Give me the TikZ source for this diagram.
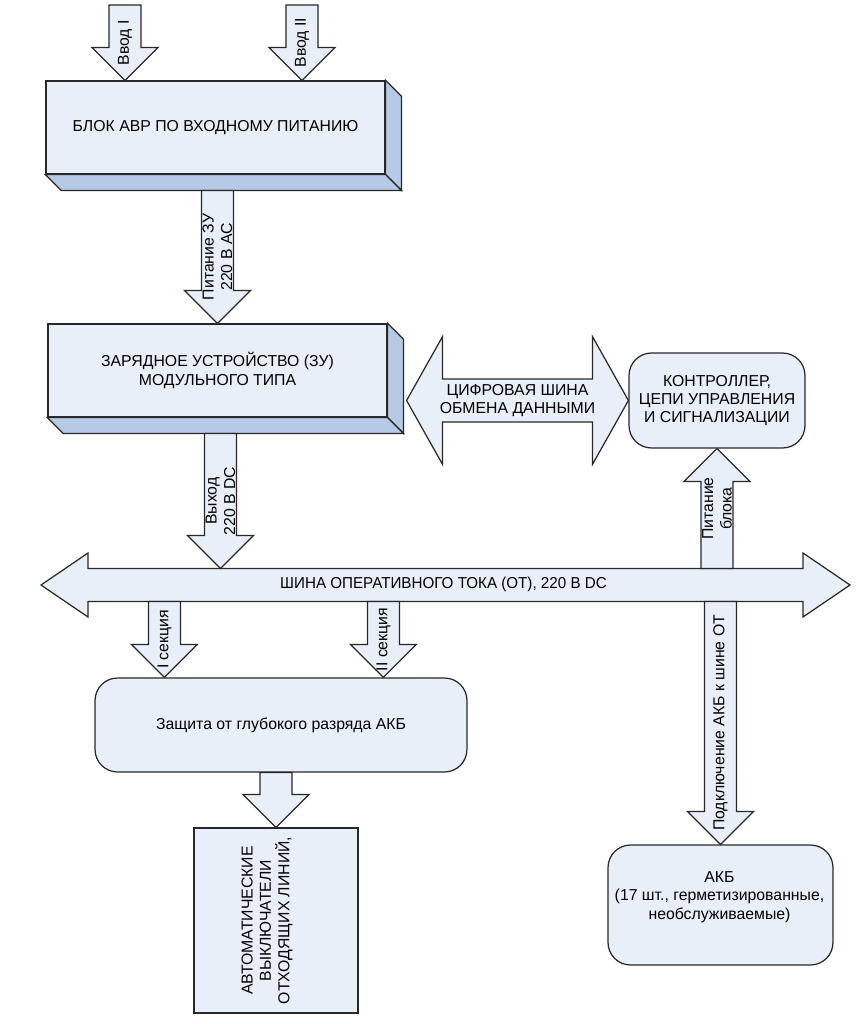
\documentclass[tikz,border=0pt]{standalone}
\usepackage{fontspec}
\setmainfont{Liberation Sans}
\usetikzlibrary{calc, positioning}

\definecolor{facefill}{RGB}{232,239,249}
\definecolor{sidefill}{RGB}{182,202,230}
\definecolor{edge}{RGB}{40,40,40}

% vertical block arrow: start, tip, label
\newcommand{\vblk}[3]{%
  \path (#2) coordinate (tp) (#1 -| #2) coordinate (st) ($(tp)!0.66cm!(st)$) coordinate (hb);
  \draw[blk] ($(st)+(-16,0)$) -- ($(hb)+(-16,0)$) -- ($(hb)+(-33,0)$) -- (tp)
    -- ($(hb)+(33,0)$) -- ($(hb)+(16,0)$) -- ($(st)+(16,0)$) -- cycle;
  \node[lbl, rotate=90] at ($(st)!0.5!(tp)$) {#3};}

% horizontal double block arrow: left tip, right tip, head length, shaft/2, head/2
\newcommand{\hblk}[5]{%
  \draw[blk] (#1) -- ($(#1)+(#3,-#5)$) -- ($(#1)+(#3,-#4)$) -- ($(#2)+(-#3,-#4)$)
    -- ($(#2)+(-#3,-#5)$) -- (#2) -- ($(#2)+(-#3,#5)$) -- ($(#2)+(-#3,#4)$)
    -- ($(#1)+(#3,#4)$) -- ($(#1)+(#3,#5)$) -- cycle;}

% side and bottom faces of a 3d block
\newcommand{\sides}[1]{%
  \draw[sideface] (#1.north east) -- ++(16,16) -- ($(#1.south east)+(16,16)$) -- (#1.south east) -- cycle;
  \draw[sideface] (#1.south west) -- ++(16,16) -- ($(#1.south east)+(16,16)$) -- (#1.south east) -- cycle;}

\begin{document}
\begin{tikzpicture}[x=0.02cm, y=-0.02cm,
    blk/.style={draw=edge, fill=facefill, line width=0.7pt, line join=miter},
    sideface/.style={draw=edge, fill=sidefill, line width=0.7pt, line join=miter},
    lbl/.style={font=\fontsize{9}{10.5}\selectfont, align=center, inner sep=1pt},
    box/.style={draw=edge, fill=facefill, line width=0.7pt, lbl},
    block/.style={box, minimum width=6.78cm, minimum height=1.86cm},
    rbox/.style={box, rounded corners=0.45cm}
]
\fill[white] (0,0) rectangle (856,1024);
\useasboundingbox (0,0) rectangle (856,1024);

% blocks
\node[block] (avr) at (215.5,127.5) {БЛОК АВР ПО ВХОДНОМУ ПИТАНИЮ};
\sides{avr}
\node[block] (zu) at (217.5,370.5) {ЗАРЯДНОЕ УСТРОЙСТВО (ЗУ)\\МОДУЛЬНОГО ТИПА};
\sides{zu}
\node[rbox, minimum width=3.52cm, minimum height=1.9cm] (ctrl) at (717,400.5)
  {КОНТРОЛЛЕР,\\ЦЕПИ УПРАВЛЕНИЯ\\И СИГНАЛИЗАЦИИ};
\node[rbox, minimum width=7.44cm, minimum height=1.88cm] (prot) at (281,725)
  {Защита от глубокого разряда АКБ};
\node[box, minimum width=3.28cm, minimum height=3.7cm] (qf) at (276,920.5) {};
\node[lbl, rotate=90] (qftxt) at (267,920.5) {АВТОМАТИЧЕСКИЕ\\ВЫКЛЮЧАТЕЛИ\\ОТХОДЯЩИХ ЛИНИЙ,};
\node[rbox, minimum width=4.5cm, minimum height=2.4cm] (akb) at (720.5,905) {};
\node[lbl] (akbtxt) at ($(akb.center)+(-1,-8)$)
  {АКБ\\(17 шт., герметизированные,\\необслуживаемые)};

% helper points
\coordinate (in1) at (125,5);
\coordinate (in2) at (302,5);
\coordinate (t1) at (in1 |- avr.north);
\coordinate (t2) at (in2 |- avr.north);
\coordinate (avrb) at ($(avr.south)+(3,16)$);
\coordinate (zub) at ($(zu.south)+(3,16)$);
\coordinate (zuside) at ($(zu.east)+(19,0)$);
\coordinate (dl) at (zuside |- ctrl.west);
\coordinate (busl) at (41,585);
\coordinate (busr) at (850,585);
\coordinate (bustop) at ($(busl)+(0,-16.5)$);
\coordinate (busbot) at ($(busl)+(0,16.5)$);
\coordinate (pb) at (ctrl.south |- bustop);
\coordinate (s1) at ($(prot.north west)+(70,0)$);
\coordinate (s2) at ($(prot.north west)+(289,0)$);

% operating current bus
\hblk{busl}{busr}{47}{16.5}{32}
\node[lbl] (bustxt) at ($(busl)!0.5!(busr)+(-2,-1)$)
  {\scalebox{0.96}[1]{ШИНА ОПЕРАТИВНОГО ТОКА (ОТ), 220 В DC}};

% data bus
\hblk{dl}{ctrl.west}{36}{21.5}{64}
\node[lbl] (dbtxt) at ($(dl)!0.5!(ctrl.west)$) {ЦИФРОВАЯ ШИНА\\ОБМЕНА ДАННЫМИ};

% feeds
\vblk{in1}{t1}{Ввод I}
\vblk{in2}{t2}{Ввод II}
\vblk{avrb}{zu.north}{Питание ЗУ\\220 В АС}
\path (zub |- bustop) coordinate (zuout);
\vblk{zub}{zuout}{Выход\\220 В DC}
\vblk{pb}{ctrl.south}{Питание\\блока}
\vblk{busbot}{s1}{I секция}
\vblk{busbot}{s2}{II секция}
\vblk{prot.south}{qf.north}{}
\vblk{busbot}{akb.north}{Подключение АКБ к шине ОТ}

\end{tikzpicture}
\end{document}
